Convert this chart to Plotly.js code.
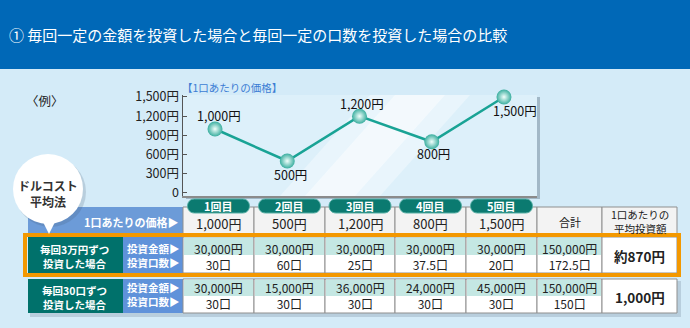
<!DOCTYPE html>
<html>
<head>
<meta charset="utf-8">
<script src="https://cdn.plot.ly/plotly-3.0.1.min.js"></script>
<style>html,body{margin:0;padding:0;background:#D4EBF8;}#chart{width:690px;height:328px;}</style>
</head>
<body>
<div id="chart"></div>
<script>
// ---- data ----
const titleText = '① 毎回一定の金額を投資した場合と毎回一定の口数を投資した場合の比較';
const exampleLabel = '〈例〉';
const chartLabel = '【1口あたりの価格】';
const bubbleText = 'ドルコスト<br>平均法';
const rounds = ['1回目', '2回目', '3回目', '4回目', '5回目'];
const prices = [1000, 500, 1200, 800, 1500];
const yTicks = [0, 300, 600, 900, 1200, 1500];
const yTickText = ['0', '300円', '600円', '900円', '1,200円', '1,500円'];
const priceRowLabel = '1口あたりの価格▶';
const totalHeader = '合計';
const avgHeader = '1口あたりの<br>平均投資額';
const rowLabels = ['毎回3万円ずつ<br>投資した場合', '毎回30口ずつ<br>投資した場合'];
const subLabels = ['投資金額▶', '投資口数▶'];
const amountFixed = [30000, 30000, 30000, 30000, 30000];
const unitsFixed = [30, 60, 25, 37.5, 20];
const amountByUnits = [30000, 15000, 36000, 24000, 45000];
const unitsByUnits = [30, 30, 30, 30, 30];
const totalAmount = [150000, 150000];
const totalUnits = [172.5, 150];
const avgCost = ['約870円', '1,000円'];

// ---- helpers / style ----
const W = 690, H = 328;
const F = '"Noto Sans CJK JP", "Noto Sans", sans-serif';
const X = p => p / W;
const Y = p => 1 - p / H;
const fmt = n => String(n).replace(/\B(?=(\d{3})+(?!\d))/g, ',');
const yen = n => fmt(n) + '円';
const kuchi = n => fmt(n) + '口';

const cols = [183, 254, 325, 395, 466, 537, 602, 677];
const cx = i => (cols[i] + cols[i + 1]) / 2;
const labelShiftY = [13, -14, 13, -12, -14];
const labelShiftX = [4, 3, 3, 2, 11];

const shapes = [];
const ann = [];
function rect(x0, y0, x1, y1, fill, line, lw) {
  shapes.push({type: 'rect', xref: 'paper', yref: 'paper', layer: 'below',
    x0: X(x0), x1: X(x1), y0: Y(y1), y1: Y(y0), fillcolor: fill,
    line: {color: line || 'rgba(0,0,0,0)', width: lw || 0}});
}
function poly(pts, fill, opacity) {
  let d = 'M ' + pts.map(p => X(p[0]) + ',' + Y(p[1])).join(' L ') + ' Z';
  shapes.push({type: 'path', xref: 'paper', yref: 'paper', layer: 'below', path: d,
    fillcolor: fill, opacity: opacity == null ? 1 : opacity, line: {width: 0, color: 'rgba(0,0,0,0)'}});
}
function pill(x0, y0, x1, y1, fill, line) {
  const r = (y1 - y0) / 2, k = 1.33 * r;
  const P = (x, y) => X(x) + ',' + Y(y);
  const d = 'M ' + P(x0 + r, y0) + ' L ' + P(x1 - r, y0) +
    ' C ' + P(x1 - r + k, y0) + ' ' + P(x1 - r + k, y1) + ' ' + P(x1 - r, y1) +
    ' L ' + P(x0 + r, y1) +
    ' C ' + P(x0 + r - k, y1) + ' ' + P(x0 + r - k, y0) + ' ' + P(x0 + r, y0) + ' Z';
  shapes.push({type: 'path', xref: 'paper', yref: 'paper', layer: 'below', path: d,
    fillcolor: fill, line: {color: line, width: 1}});
}
function circle(x0, y0, x1, y1, fill) {
  shapes.push({type: 'circle', xref: 'paper', yref: 'paper', layer: 'below',
    x0: X(x0), x1: X(x1), y0: Y(y1), y1: Y(y0), fillcolor: fill, line: {width: 0, color: 'rgba(0,0,0,0)'}});
}
function text(t, px, py, size, color, opts) {
  ann.push(Object.assign({xref: 'paper', yref: 'paper', x: X(px), y: Y(py), text: t,
    showarrow: false, xanchor: 'center', yanchor: 'middle', borderpad: 0,
    font: {family: F, size: size, color: color}}, opts || {}));
}

// header band
rect(0, 0, 690, 69, '#0068B7');
text(titleText, 8, 35, 15, '#FFFFFF', {xanchor: 'left'});
text(exampleLabel, 25, 100, 12.5, '#222', {xanchor: 'left'});
text(chartLabel, 181, 87, 10.5, '#3C7DD4', {xanchor: 'left'});

// plot background with soft glare
rect(186, 97, 540, 199, 'rgba(70,90,110,0.35)');
rect(183, 95, 537, 196, '#DDF0FA');
poly([[370, 95], [470, 95], [380, 196], [280, 196]], '#FFFFFF', 0.35);
poly([[395, 95], [445, 95], [355, 196], [305, 196]], '#FFFFFF', 0.45);

// table shadow
rect(30, 281, 681, 317, 'rgba(60,80,100,0.18)');

// header row
rect(28, 207, 183, 233, '#6C9BD8');
for (let i = 0; i < 7; i++) rect(cols[i], 207, cols[i + 1], 235, '#F3F3F3', '#8F8F8F', 1);

// data rows
const rowsY = [[237, 255, 273], [279, 296, 313]];
for (let r = 0; r < 2; r++) {
  const [a, m, b] = rowsY[r];
  rect(28, a, 123, b, '#00716B');
  rect(123, a, 183, b, '#5F92DA');
  for (let i = 0; i < 6; i++) {
    rect(cols[i], a, cols[i + 1], b, '#FFFFFF', '#8F8F8F', 1);
    rect(cols[i] + 1, a + 0.5, cols[i + 1] - 1, m, '#C4E7E3');
  }
  rect(cols[6], a, cols[7], b, '#FFFFFF', '#8F8F8F', 1);
}

// orange highlight
rect(25, 235, 679, 275, 'rgba(0,0,0,0)', '#F39800', 4);

// bubble
circle(15, 157, 86, 227, 'rgba(60,80,100,0.18)');
poly([[41, 218], [57, 218], [49, 234]], '#FFFFFF', 1);
circle(13, 154, 83, 224, '#FFFFFF');
text('<b>' + bubbleText + '</b>', 48, 193, 12, '#333333');

// round buttons
for (let i = 0; i < 5; i++) {
  pill(cx(i) - 31, 199, cx(i) + 31, 213, '#0B7A70', '#56AFA5');
  text('<b>' + rounds[i] + '</b>', cx(i), 206, 11, '#FFFFFF');
  text(yen(prices[i]), cx(i), 223, 13, '#222');
}
text('<b>' + priceRowLabel + '</b>', 180, 222, 11, '#FFFFFF', {xanchor: 'right'});
text(totalHeader, cx(5), 222, 11, '#222');
text(avgHeader, cx(6), 221, 10.5, '#222');

// rows text (two lines per cell)
const amounts = [amountFixed, amountByUnits];
const units = [unitsFixed, unitsByUnits];
const textY = [[256.5, 256], [295.5, 297]];
for (let r = 0; r < 2; r++) {
  const [yv, yc] = textY[r];
  text('<b>' + rowLabels[r] + '</b>', 74, yc, 10.5, '#FFFFFF');
  text('<b>' + subLabels[0] + '<br>' + subLabels[1] + '</b>', 181, yv - 1, 10.5, '#FFFFFF', {xanchor: 'right', align: 'right'});
  for (let i = 0; i < 5; i++) {
    text(yen(amounts[r][i]) + '<br>' + kuchi(units[r][i]), cx(i), yv, 12, '#222');
  }
  text(yen(totalAmount[r]) + '<br>' + kuchi(totalUnits[r]), cx(5), yv, 12, '#222');
  text('<b>' + avgCost[r] + '</b>', cx(6), yc, 13.5, '#222');
}

// point labels via axis scales
const xIdx = prices.map((_, i) => i);
prices.forEach((p, i) => {
  ann.push({xref: 'x', yref: 'y', x: xIdx[i], y: p, text: yen(p), showarrow: false,
    xanchor: 'center', yanchor: 'middle', xshift: labelShiftX[i], yshift: labelShiftY[i],
    font: {family: F, size: 12.5, color: '#111'}});
});

const trace = {
  x: xIdx, y: prices, type: 'scatter', mode: 'lines+markers',
  line: {color: '#19A395', width: 2.5},
  marker: {size: 15, color: '#3AAE9F', gradient: {type: 'radial', color: '#F2FFFC'},
    line: {width: 0}},
  hoverinfo: 'skip', cliponaxis: false
};

const layout = {
  width: W, height: H,
  margin: {l: 0, r: 0, t: 0, b: 0},
  paper_bgcolor: '#D4EBF8', plot_bgcolor: 'rgba(0,0,0,0)',
  showlegend: false,
  xaxis: {domain: [X(183), X(537)], range: [-0.443, 4.457], showgrid: false, zeroline: false,
    showticklabels: false, ticks: '', showline: true, linecolor: '#8B8B8B', linewidth: 2, fixedrange: true},
  yaxis: {domain: [Y(196), Y(95)], range: [-47, 1531], showgrid: false, zeroline: false,
    tickvals: yTicks, ticktext: yTickText, ticks: 'inside', ticklen: 4, tickcolor: '#555', tickwidth: 1,
    showline: true, linecolor: '#555', linewidth: 1.5,
    tickfont: {family: F, size: 12.5, color: '#222'}, fixedrange: true},
  shapes: shapes,
  annotations: ann
};

Plotly.newPlot('chart', [trace], layout, {displayModeBar: false, staticPlot: true});
</script>
</body>
</html>
